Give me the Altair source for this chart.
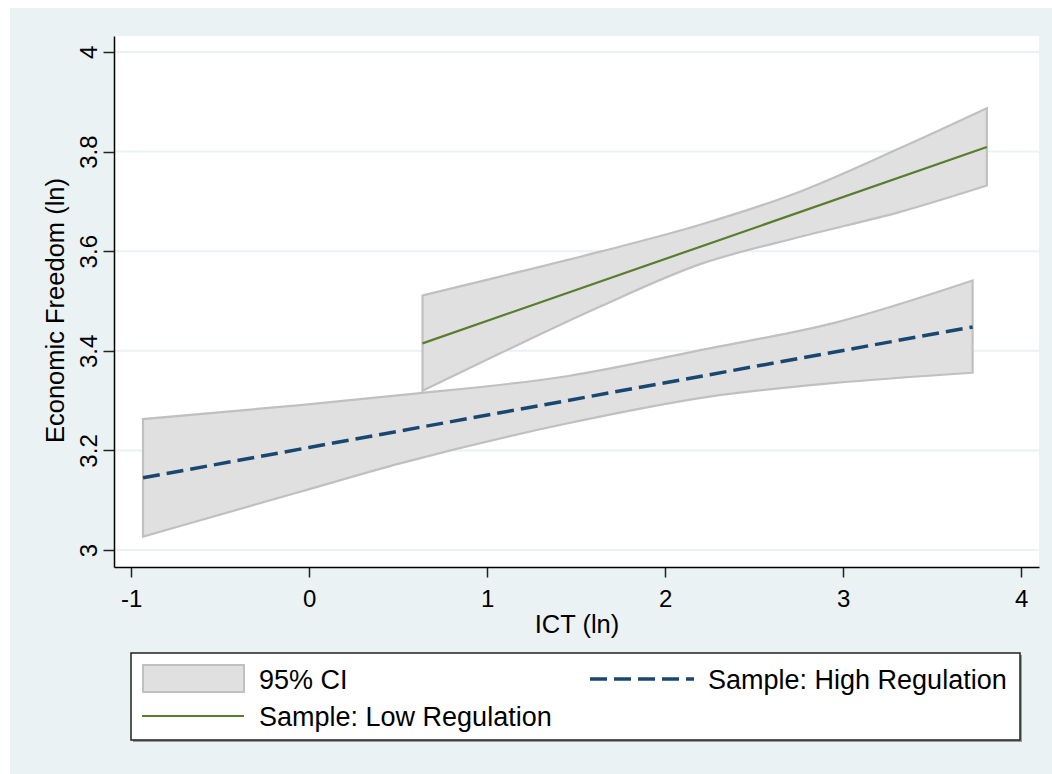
import altair as alt
import pandas as pd

# ---- data ----
high_ci_x = [-0.933, -0.05, 0.511, 1.448, 2.25, 2.94, 3.727]
high_ci_upper = [3.263, 3.291, 3.311, 3.349, 3.405, 3.455, 3.541]
high_ci_lower = [3.027, 3.117, 3.174, 3.254, 3.308, 3.335, 3.356]
high_fit_x = [-0.933, 0.0, 3.727]
high_fit_y = [3.145, 3.206, 3.448]

low_ci_x = [0.637, 1.073, 1.635, 2.197, 2.76, 3.32, 3.807]
low_ci_upper = [3.511, 3.549, 3.599, 3.653, 3.720, 3.807, 3.887]
low_ci_lower = [3.320, 3.395, 3.489, 3.574, 3.629, 3.679, 3.732]
low_fit_x = [0.637, 3.807]
low_fit_y = [3.415, 3.809]

x_ticks = [-1, 0, 1, 2, 3, 4]
y_ticks = [3.0, 3.2, 3.4, 3.6, 3.8, 4.0]
legend_labels = ["95% CI", "Sample: High Regulation", "Sample: Low Regulation"]

x_title = "ICT (ln)"
y_title = "Economic Freedom (ln)"

W, H = 925, 531
PAD = {"left": 114, "top": 36, "right": 13, "bottom": 207}

BG = "#EAF2F3"
BAND_FILL = "#E0E0E0"
BAND_STROKE = "#C0C0C0"
NAVY = "#1A476F"
GREEN = "#587D2D"
FONT = "Liberation Sans"

xscale = alt.Scale(domain=[-1.096, 4.1], nice=False, zero=False)
yscale = alt.Scale(domain=[2.966, 4.032], nice=False, zero=False)

xaxis = alt.Axis(values=x_ticks, labelExpr="toString(datum.value)", title=x_title,
                 labelPadding=10, tickSize=10, titleY=65, titleBaseline="alphabetic",
                 zindex=1, grid=False)
yaxis = alt.Axis(values=y_ticks, labelExpr="toString(datum.value)", title=y_title,
                 labelAngle=270, labelAlign="center", labelBaseline="alphabetic",
                 labelPadding=7, tickSize=11, titleX=-51, titleY=274,
                 titleAlign="center", titleBaseline="alphabetic", titleAngle=270,
                 zindex=1, grid=False)


def X(field):
    return alt.X(f"{field}:Q", scale=xscale, axis=xaxis, title=x_title)


def Y(field):
    return alt.Y(f"{field}:Q", scale=yscale, axis=yaxis, title=y_title)


one = pd.DataFrame({"k": [0]})

# background panels
outer_bg = alt.Chart(one).mark_rect(color=BG).encode(
    x=alt.value(-104), x2=alt.value(W + PAD["right"]),
    y=alt.value(-28), y2=alt.value(H + PAD["bottom"]))
plot_bg = alt.Chart(one).mark_rect(color="white").encode(
    x=alt.value(0), x2=alt.value(W), y=alt.value(0), y2=alt.value(H))

grid = alt.Chart(pd.DataFrame({"g": y_ticks})).mark_rule(color=BG, strokeWidth=2).encode(
    y=Y("g"))

high_band = alt.Chart(pd.DataFrame({"ict": high_ci_x, "lo": high_ci_lower, "hi": high_ci_upper})).mark_area(
    fill=BAND_FILL, stroke=BAND_STROKE, strokeWidth=2.2, interpolate="monotone").encode(
    x=X("ict"), y=Y("lo"), y2=alt.Y2("hi:Q"))
low_band = alt.Chart(pd.DataFrame({"ict": low_ci_x, "lo": low_ci_lower, "hi": low_ci_upper})).mark_area(
    fill=BAND_FILL, stroke=BAND_STROKE, strokeWidth=2.2, interpolate="monotone").encode(
    x=X("ict"), y=Y("lo"), y2=alt.Y2("hi:Q"))

high_line = alt.Chart(pd.DataFrame({"ict": high_fit_x, "ef": high_fit_y})).mark_line(
    color=NAVY, strokeWidth=3.5, strokeDash=[17, 7]).encode(x=X("ict"), y=Y("ef"))
low_line = alt.Chart(pd.DataFrame({"ict": low_fit_x, "ef": low_fit_y})).mark_line(
    color=GREEN, strokeWidth=2.2).encode(x=X("ict"), y=Y("ef"))

# legend (drawn in pixel space below the plot)
lg_shadow = alt.Chart(one).mark_rect(color="#9A9A9A").encode(
    x=alt.value(19), x2=alt.value(908), y=alt.value(619), y2=alt.value(706))
lg_box = alt.Chart(one).mark_rect(fill="white", stroke="#222222", strokeWidth=1.5).encode(
    x=alt.value(17), x2=alt.value(906), y=alt.value(617), y2=alt.value(704))
lg_swatch = alt.Chart(one).mark_rect(fill=BAND_FILL, stroke=BAND_STROKE, strokeWidth=2).encode(
    x=alt.value(29), x2=alt.value(130), y=alt.value(629), y2=alt.value(656))
lg_green = alt.Chart(one).mark_rule(color=GREEN, strokeWidth=2.2).encode(
    x=alt.value(28), x2=alt.value(130), y=alt.value(680))
lg_navy = alt.Chart(one).mark_rule(color=NAVY, strokeWidth=3.5, strokeDash=[17, 7]).encode(
    x=alt.value(476), x2=alt.value(580), y=alt.value(643))


def lg_text(label, x, y):
    return alt.Chart(one).mark_text(font=FONT, fontSize=27, color="black", align="left",
                                    baseline="alphabetic").encode(
        x=alt.value(x), y=alt.value(y), text=alt.value(label))


lg_t1 = lg_text(legend_labels[0], 145, 653)
lg_t2 = lg_text(legend_labels[1], 594, 653)
lg_t3 = lg_text(legend_labels[2], 145, 690)

chart = alt.layer(
    outer_bg, plot_bg, grid, high_band, low_band, high_line, low_line,
    lg_shadow, lg_box, lg_swatch, lg_green, lg_navy, lg_t1, lg_t2, lg_t3
).properties(
    width=W, height=H, padding=PAD,
    autosize=alt.AutoSizeParams(type="none"), background="white"
).configure_view(stroke=None).configure_axis(
    labelFont=FONT, labelFontSize=24, labelColor="black",
    titleFont=FONT, titleFontSize=25.5, titleColor="black", titleFontWeight="normal",
    domainColor="black", domainWidth=1.5, tickColor="#222222", tickWidth=1.5,
)

chart.save("out.html", embed_options={"renderer": "svg", "actions": False})
